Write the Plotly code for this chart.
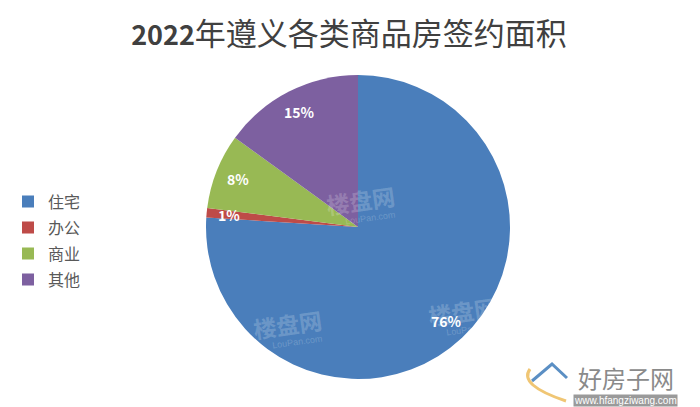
import math
import plotly.graph_objects as go

labels = ["住宅", "办公", "商业", "其他"]
values = [76, 1, 8, 15]
colors = ["#4A7EBB", "#BE4B48", "#98B954", "#7D60A0"]
title = '<span style="font-size:27px"><b>2022</b></span>年遵义各类商品房签约面积'

# the page has a body margin, so everything is shifted back by it
off_x, off_y = 8, 7
W, H = 700, 407
cx, cy, R = 358, 226, 152


def px(x):
    return (x - off_x) / W


def py(y):
    return 1 - (y - off_y) / H


def note(text, x, y, **kw):
    return dict(text=text, x=px(x), y=py(y), xref="paper", yref="paper",
                xanchor="center", yanchor="middle", showarrow=False, **kw)


fig = go.Figure()
fig.add_trace(go.Pie(
    labels=[f'<span style="font-size:16px">{s}</span>' for s in labels],
    values=values,
    sort=False,
    direction="clockwise",
    rotation=0,
    marker=dict(colors=colors, line=dict(width=0)),
    textinfo="none",
    domain=dict(x=[px(cx - R), px(cx + R)], y=[py(cy + R), py(cy - R)]),
    showlegend=True,
))

notes = []

# watermarks
for x, y in [(360, 199), (287, 323), (462, 310)]:
    notes.append(note("楼盘网", x, y, textangle=-8,
                      font=dict(size=23, color="rgba(255,255,255,0.2)", weight="bold")))
    notes.append(note("LouPan.com", x + 10, y + 18, textangle=-8,
                      font=dict(size=9, color="rgba(255,255,255,0.2)", family="Liberation Sans")))

# percent labels sit close to the rim, like Excel's best fit
total = sum(values)
cum = 0
for v in values:
    a = 2 * math.pi * (cum + v / 2) / total
    cum += v
    notes.append(note(f"{round(100 * v / total)}%",
                      cx + 0.85 * R * math.sin(a), cy - 0.85 * R * math.cos(a),
                      font=dict(size=14, color="white", weight="bold")))

# site logo, bottom right
notes.append(note("好房子网", 626, 376, font=dict(size=24, color="#8a8a8a")))
notes.append(note("www.hfangziwang.com", 625, 399, bgcolor="#9a9a9a", borderpad=0,
                  font=dict(size=10, color="white", family="Liberation Sans")))
logo = [
    dict(type="path", xref="paper", yref="paper",
         path=f"M {px(532)} {py(380)} L {px(552)} {py(363)} L {px(567)} {py(377)}",
         line=dict(color="#5b8fc4", width=3)),
    dict(type="path", xref="paper", yref="paper",
         path=f"M {px(530)} {py(368)} Q {px(518)} {py(384)} {px(566)} {py(400)}",
         line=dict(color="#f0c674", width=3)),
]

fig.update_layout(
    width=W,
    height=H,
    margin=dict(l=0, r=0, t=0, b=0),
    paper_bgcolor="white",
    font=dict(family="Noto Sans CJK SC"),
    title=dict(text=title, x=px(349), xanchor="center", y=py(33), yanchor="middle",
               font=dict(size=31, color="#404040")),
    legend=dict(x=0, y=py(240), xanchor="left", yanchor="middle",
                font=dict(size=17.7, color="#595959"), itemwidth=30),
    annotations=notes,
    shapes=logo,
)
fig.write_html("out.html")
